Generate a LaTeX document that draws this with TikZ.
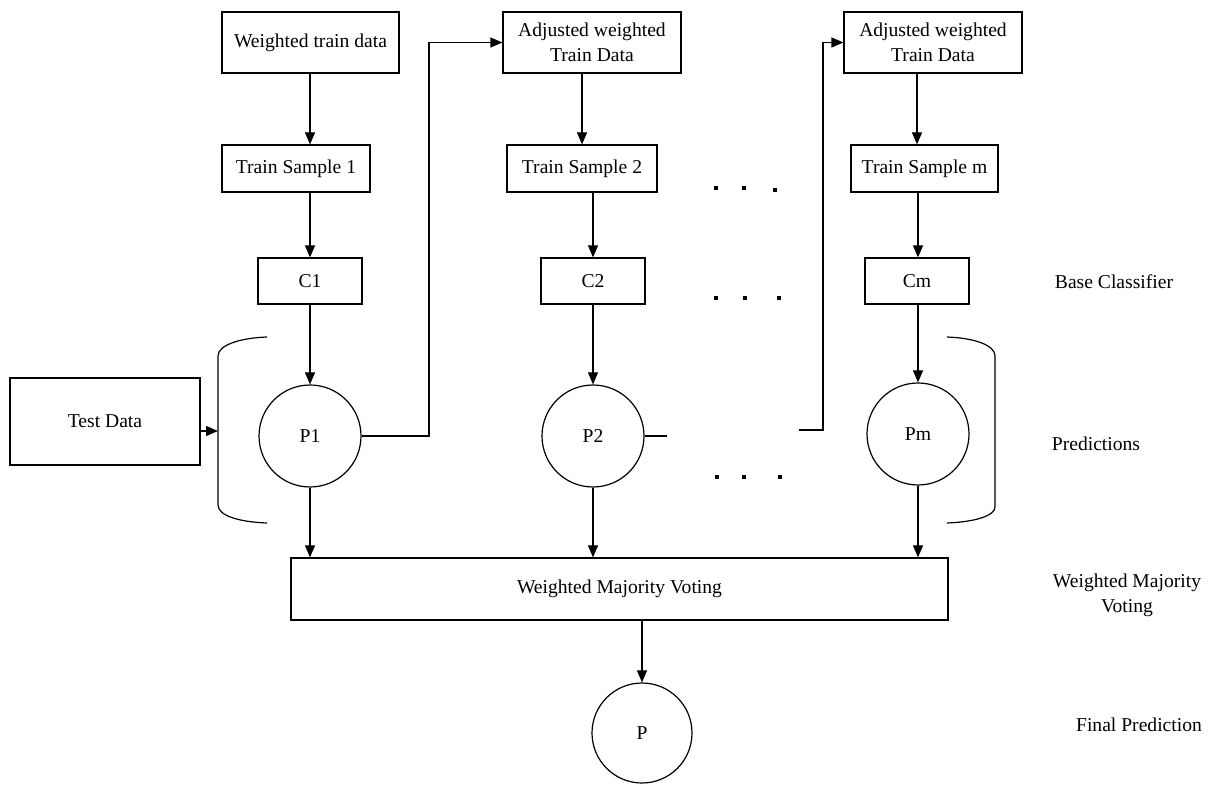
\documentclass[tikz,border=0pt]{standalone}
\usepackage{fontspec}
\setmainfont{Liberation Serif}
\usetikzlibrary{arrows.meta}

\tikzstyle{myBox} = [draw=black, line width=0.6pt, rectangle,
    inner sep=0pt, align=center]
\tikzstyle{myCirc} = [draw=black, line width=0.6pt, circle,
    inner sep=0pt, minimum size=51pt]
\tikzstyle{myArr} = [line width=0.6pt, -{Triangle[length=6pt,width=5pt]}]
\tikzstyle{myLine} = [line width=0.6pt]
\tikzstyle{myLabel} = [align=center, inner sep=0pt]

\begin{document}
\begin{tikzpicture}[x=0.5pt, y=-0.5pt,
    font=\fontsize{9.8pt}{12.5pt}\selectfont]

\useasboundingbox (0,0) rectangle (1220,785);

% top row: training data
\node[myBox, minimum width=88.5pt, minimum height=30.5pt] (WTrain) at (310.5,42.5) [] {Weighted train data};
\node[myBox, minimum width=89pt, minimum height=30.5pt] (AdjTwo) at (592,42.5) [] {Adjusted weighted\\Train Data};
\node[myBox, minimum width=89pt, minimum height=30.5pt] (AdjM) at (933,42.5) [] {Adjusted weighted\\Train Data};

% samples
\node[myBox, minimum width=74pt, minimum height=23.5pt] (SampOne) at (296,168.5) [] {Train Sample 1};
\node[myBox, minimum width=75pt, minimum height=23.5pt] (SampTwo) at (582,168.5) [] {Train Sample 2};
\node[myBox, minimum width=73.5pt, minimum height=23.5pt] (SampM) at (924.5,168.5) [] {Train Sample m};

% base classifiers
\node[myBox, minimum width=52pt, minimum height=23pt] (ClsOne) at (310,281) [] {C1};
\node[myBox, minimum width=52pt, minimum height=23pt] (ClsTwo) at (593,281) [] {C2};
\node[myBox, minimum width=52pt, minimum height=23pt] (ClsM) at (917,281) [] {Cm};

% predictions
\node[myCirc] (PredOne) at (310,436) [] {P1};
\node[myCirc] (PredTwo) at (593,436) [] {P2};
\node[myCirc] (PredM) at (918,434) [] {Pm};

\node[myBox, minimum width=95pt, minimum height=43.5pt] (TestData) at (105,421.5) [] {Test Data};

% voting and final
\node[myBox, minimum width=328.5pt, minimum height=31pt] (Voting) at (619.5,589) [] {Weighted Majority Voting};
\node[myCirc, minimum size=50pt] (Final) at (642,733) [] {P};

% labels on the right
\node[myLabel] (LblBase) at (1114,282) [] {Base Classifier};
\node[myLabel] (LblPred) at (1096,444) [] {Predictions};
\node[myLabel] (LblVote) at (1127,595) [] {Weighted Majority\\Voting};
\node[myLabel] (LblFinal) at (1139,725) [] {Final Prediction};

% brackets
\draw[myLine] (267,337) .. controls (240,338) and (218,345) .. (218,356)
  -- (218,505) .. controls (218,516) and (240,522) .. (267,523);
\draw[myLine] (947,337) .. controls (974,338) and (995,345) .. (995,356)
  -- (995,507) .. controls (995,516) and (974,522) .. (947,523);
\coordinate (BrkLeft) at (218,431);

% helper points
\coordinate (TurnOne) at (429,436);
\coordinate (StubTwo) at (667,436);
\coordinate (GapTwo) at (799,430);
\coordinate (TurnTwo) at (823,430);

% arrows down the columns
\draw[myArr] (WTrain.south -| PredOne) -- (SampOne.north -| PredOne);
\draw[myArr] (SampOne.south -| PredOne) -- (ClsOne.north -| PredOne);
\draw[myArr] (ClsOne) -- (PredOne);
\draw[myArr] (AdjTwo.south -| SampTwo) -- (SampTwo.north);
\draw[myArr] (SampTwo.south -| ClsTwo) -- (ClsTwo.north);
\draw[myArr] (ClsTwo) -- (PredTwo);
\draw[myArr] (AdjM.south -| ClsM) -- (SampM.north -| ClsM);
\draw[myArr] (SampM.south -| PredM) -- (ClsM.north -| PredM);
\draw[myArr] (ClsM.south -| PredM) -- (PredM);

% feedback to the next round
\draw[myArr] (PredOne.east) -- (TurnOne) |- (AdjTwo.west);
\draw[myLine] (PredTwo.east) -- (StubTwo);
\draw[myArr] (GapTwo) -- (TurnTwo) |- (AdjM.west);

\draw[myArr] (TestData.east |- BrkLeft) -- (BrkLeft);

% to the voting
\draw[myArr] (PredOne.south) -- (PredOne.south |- Voting.north);
\draw[myArr] (PredTwo.south) -- (PredTwo.south |- Voting.north);
\draw[myArr] (PredM.south) -- (PredM.south |- Voting.north);
\draw[myArr] (Voting.south -| Final) -- (Final);

% dots
\foreach \dx/\dy in {716/188, 744/188, 775/190, 716/298, 745/298, 779/298, 717/477, 744/477, 780/477}
  \fill (\dx-2,\dy-2) rectangle (\dx+2,\dy+2);

\end{tikzpicture}
\end{document}
